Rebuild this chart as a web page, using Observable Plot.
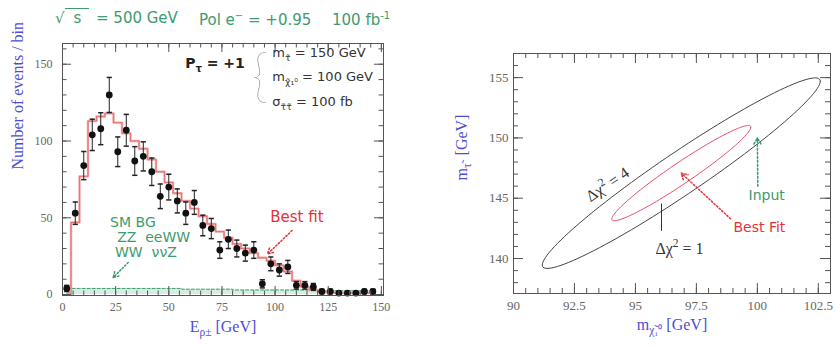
<!DOCTYPE html>
<html>
<head>
<meta charset="utf-8">
<script src="https://cdn.jsdelivr.net/npm/d3@7"></script>
<script src="https://cdn.jsdelivr.net/npm/@observablehq/plot@0.6"></script>
<style>
  html, body { margin: 0; padding: 0; background: #fff; }
  #wrap { position: relative; width: 835px; height: 349px; overflow: hidden; }
  #wrap svg { position: absolute; top: 0; }
  .ttl { position: absolute; top: 11px; font: 15px "DejaVu Sans", sans-serif; line-height: 1; color: #3d9b6e; white-space: nowrap; }
  .ttl sup { font-size: 10px; }
  .bar { border-top: 1px solid #3d9b6e; padding: 0 8px 0 9px; }
</style>
</head>
<body>
<div id="wrap">
  <div class="ttl" style="left:55px">√<span class="bar">s</span></div>
  <div class="ttl" style="left:96px">= 500 GeV</div>
  <div class="ttl" style="left:199px">Pol e<sup>−</sup> = +0.95</div>
  <div class="ttl" style="left:332px">100 fb<sup>-1</sup></div>
</div>
<script>
// ---- Energy spectrum: 4 GeV bins (bin centres in GeV) ----
const binCenters = [2, 6, 10, 14, 18, 22, 26, 30, 34, 38, 42, 46, 50, 54, 58, 62, 66, 70, 74, 78,
  82, 86, 90, 94, 98, 102, 106, 110, 114, 118, 122, 126, 130, 134, 138, 142, 146];
// simulated events per bin
const eventCounts = [4, 53, 84, 104, 108, 130, 93, 107, 87, 90, 80, 64, 70, 61, 53, 60, 45, 43, 29, 36,
  30, 27, 29, 7, 20, 16, 18, 6, 6, 5, 2, 2, 1, 1, 1, 2, 2];
// best-fit prediction per bin
const bestFit = [0, 47, 77, 113, 116, 118, 112, 105, 100, 95, 88, 80, 73, 66, 61, 56, 51, 46, 41, 37,
  33, 30, 27, 24, 22, 19, 15, 9, 5, 3, 2, 1.5, 1.2, 1, 1, 1, 1];
// SM background (ZZ, eeWW, WW, ννZ) per bin
const smBackground = [1, 4, 4, 4, 4, 4, 4, 4, 4, 4, 4, 4, 4, 4, 3.5, 3.5, 3.5, 3.5, 3.5, 3.5,
  3, 3, 3, 3, 3, 3, 3, 3, 3, 3, 2.5, 2.5, 2.5, 2.5, 2.5, 2.5, 2.5];

const specXTicks = [0, 25, 50, 75, 100, 125, 150];
const specYTicks = [0, 50, 100, 150];

// ---- Mass fit: chi^2 contours in the (m_chi, m_stau) plane ----
const fitMass = {mChi: 96.88, mStau: 147.08};
const inputMass = {mChi: 100, mStau: 150};
const sigmaChi = 2.85, sigmaStau = 3.95, rho = 0.964;
const chi2Levels = [1, 4];

const massXTicks = [90, 92.5, 95, 97.5, 100, 102.5];
const massYTicks = [140, 145, 150, 155];

// ------------------------------------------------------------
const rows = (vals) => binCenters.map((e, i) => ({e, v: vals[i]}));
const pts = rows(eventCounts);
const fitRows = rows(bestFit);
const bgRows = rows(smBackground);

const ink = "#555", blue = "#4d4dd6", green = "#3d9b6e", red = "#e8303a";
const NB = "\u00a0";

// short horizontal stroke used as an error-bar cap
const capSymbol = {draw(ctx, size) { const r = Math.sqrt(size / Math.PI); ctx.moveTo(-r, 0); ctx.lineTo(r, 0); }};

// inward ticks on all four sides of the frame
function frameTicks(xs, ys, len, innerW, innerH) {
  return [
    Plot.tickX(xs, {x: d => d, insetTop: innerH - len, stroke: ink}),
    Plot.tickX(xs, {x: d => d, insetBottom: innerH - len, stroke: ink}),
    Plot.tickY(ys, {y: d => d, insetRight: innerW - len, stroke: ink}),
    Plot.tickY(ys, {y: d => d, insetLeft: innerW - len, stroke: ink})
  ];
}

// ---- left panel ----
const L = {w: 417, h: 349, ml: 62, mr: 34, mt: 43, mb: 54};
const LiW = L.w - L.ml - L.mr, LiH = L.h - L.mt - L.mb;
const sans = "DejaVu Sans", serif = "Liberation Serif";
const err = d => Math.sqrt(d.v);

const left = Plot.plot({
  width: L.w, height: L.h,
  marginLeft: L.ml, marginRight: L.mr, marginTop: L.mt, marginBottom: L.mb,
  x: {domain: [0, 151], label: null},
  y: {domain: [-0.6, 163.5], label: null},
  style: {background: "transparent", fontFamily: serif, color: "#666"},
  marks: [
    Plot.areaY(bgRows, {x: "e", y: "v", curve: "step", fill: "#d6eee0"}),
    Plot.line(bgRows, {x: "e", y: "v", curve: "step", stroke: green, strokeWidth: 1, strokeDasharray: "3,2"}),
    Plot.line(fitRows, {x: "e", y: "v", curve: "step", stroke: "#f4a6a6", strokeWidth: 2.4}),
    Plot.line(fitRows, {x: "e", y: "v", curve: "step", stroke: "#e06060", strokeWidth: 0.7}),
    Plot.ruleX(pts, {x: "e", y1: d => d.v - err(d), y2: d => d.v + err(d), stroke: "#222"}),
    Plot.dot(pts, {x: "e", y: d => d.v - err(d), symbol: capSymbol, r: 2.6, stroke: "#222", fill: "none"}),
    Plot.dot(pts, {x: "e", y: d => d.v + err(d), symbol: capSymbol, r: 2.6, stroke: "#222", fill: "none"}),
    Plot.dot(pts, {x: "e", y: "v", r: 3.4, fill: "#111"}),
    Plot.frame({stroke: ink}),
    ...frameTicks(d3.range(0, 151, 5), d3.range(0, 161, 10), 4.5, LiW, LiH),
    ...frameTicks(specXTicks, specYTicks, 9, LiW, LiH),
    Plot.axisX(specXTicks, {tickSize: 0, tickPadding: 7, fontSize: 12, fill: "#666", tickFormat: d => String(d)}),
    Plot.axisY(specYTicks, {tickSize: 0, tickPadding: 10, fontSize: 12, fill: "#666", tickFormat: d => String(d)}),
    // axis titles
    Plot.text(["Number of events / bin"], {text: d => d, frameAnchor: "left", dx: -45, rotate: -90, fontSize: 16, fontFamily: serif, fill: blue}),
    Plot.text([`E_{ρ±}${NB}[GeV]`], {text: d => d, frameAnchor: "bottom", dy: 36, fontSize: 16, fontFamily: serif, fill: blue}),
    // scenario box
    Plot.text(["P_{τ} = +1"], {text: d => d, x: 57.7, y: 150.4, textAnchor: "start", fontSize: 14, fontWeight: "bold", fontFamily: sans, fill: "#222"}),
    Plot.text(["{"], {text: d => d, x: 93.0, y: 141.5, fontSize: 58, fontWeight: 100, fontFamily: "Lato", fill: "#888"}),
    Plot.text([`m_{τ̃}${NB}= 150 GeV`, `m_{χ̃₁⁰}${NB}= 100 GeV`, `σ_{τ̃τ̃}${NB}= 100 fb`], {text: d => d, x: 98.7, y: [157.2, 141.6, 125.2], textAnchor: "start", fontSize: 13, fontFamily: sans, fill: "#333"}),
    // background annotation
    Plot.text(["SM BG", `ZZ${NB} eeWW`, `WW${NB} ννZ`], {text: d => d, x: [22.4, 25.7, 24.7], y: [47.0, 37.2, 27.4], textAnchor: "start", fontSize: 14, fontFamily: sans, fill: green}),
    Plot.arrow([0], {x1: 30.9, y1: 20.9, x2: 23.8, y2: 11.1, stroke: green, strokeDasharray: "1.5,2", headLength: 6}),
    // fit annotation
    Plot.text(["Best fit"], {text: d => d, x: 97.7, y: 50.2, textAnchor: "start", fontSize: 15, fontFamily: sans, fill: red}),
    Plot.arrow([0], {x1: 108, y1: 41.7, x2: 96.5, y2: 26.5, stroke: red, strokeDasharray: "1.5,2", headLength: 6})
  ]
});

// ---- right panel ----
const R = {w: 418, h: 349, ml: 96, mr: 5, mt: 53, mb: 56};
const RiW = R.w - R.ml - R.mr, RiH = R.h - R.mt - R.mb;

// chi^2 contour: ellipse of the correlated two-parameter fit
function contour(level) {
  const k = Math.sqrt(level), s = Math.sqrt(1 - rho * rho);
  return d3.range(0, 361, 3).map(a => {
    const t = a * Math.PI / 180;
    return {x: fitMass.mChi + k * sigmaChi * Math.cos(t),
            y: fitMass.mStau + k * sigmaStau * (rho * Math.cos(t) + s * Math.sin(t))};
  });
}

const right = Plot.plot({
  width: R.w, height: R.h,
  marginLeft: R.ml, marginRight: R.mr, marginTop: R.mt, marginBottom: R.mb,
  x: {domain: [90, 103], label: null},
  y: {domain: [137.1, 157], label: null},
  style: {background: "transparent", fontFamily: serif, color: "#666"},
  marks: [
    Plot.line(contour(chi2Levels[1]), {x: "x", y: "y", stroke: "#444", strokeWidth: 1}),
    Plot.line(contour(chi2Levels[0]), {x: "x", y: "y", stroke: "#e8506a", strokeWidth: 1}),
    Plot.frame({stroke: ink}),
    ...frameTicks(d3.range(90, 103, 0.5), d3.range(138, 157, 1), 5, RiW, RiH),
    ...frameTicks(massXTicks, massYTicks, 10, RiW, RiH),
    Plot.axisX(massXTicks, {tickSize: 0, tickPadding: 7, fontSize: 13, fill: "#666", tickFormat: d => String(d)}),
    Plot.axisY(massYTicks, {tickSize: 0, tickPadding: 5, fontSize: 13, fill: "#666", tickFormat: d => String(d)}),
    Plot.text([`m_{τ̃}${NB}${NB}[GeV]`], {text: d => d, frameAnchor: "left", dx: -52, dy: 7, rotate: -90, fontSize: 16, fontFamily: serif, fill: blue}),
    Plot.text([`m_{χ̃₁⁰}${NB}[GeV]`], {text: d => d, frameAnchor: "bottom", dy: 36, fontSize: 16, fontFamily: serif, fill: blue}),
    // contour labels
    Plot.text(["Δχ^{2} = 4"], {text: d => d, x: 93.86, y: 146.13, rotate: -34, fontSize: 16, fontFamily: serif, fill: "#333"}),
    Plot.text(["Δχ^{2} = 1"], {text: d => d, x: 95.82, y: 140.83, textAnchor: "start", fontSize: 16, fontFamily: serif, fill: "#333"}),
    Plot.link([0], {x1: 96.07, y1: 142.3, x2: 96.07, y2: 144.56, stroke: "#333"}),
    // best fit and input points
    Plot.text(["Best Fit"], {text: d => d, x: 99.02, y: 142.57, textAnchor: "start", fontSize: 14, fontFamily: sans, fill: red}),
    Plot.arrow([0], {x1: 98.9, y1: 143.3, x2: fitMass.mChi, y2: fitMass.mStau, stroke: red, strokeDasharray: "1.5,2", headLength: 7}),
    Plot.text(["Input"], {text: d => d, x: 99.64, y: 145.22, textAnchor: "start", fontSize: 14, fontFamily: sans, fill: green}),
    Plot.arrow([0], {x1: 100.02, y1: 146.0, x2: inputMass.mChi, y2: inputMass.mStau, stroke: green, strokeDasharray: "2,2", headLength: 7})
  ]
});

const wrap = document.getElementById("wrap");
left.style.left = "0px";
right.style.left = L.w + "px";
wrap.appendChild(left);
wrap.appendChild(right);

// turn _{...} and ^{...} inside SVG labels into sub/superscript tspans
function richify(svg) {
  for (const el of svg.querySelectorAll("text")) {
    const s = el.textContent;
    if (!/[_^]\{/.test(s)) continue;
    const size = parseFloat(getComputedStyle(el).fontSize) || 12;
    el.textContent = "";
    let shift = 0;
    for (const m of s.matchAll(/([_^])\{([^}]*)\}|([^_^]+|[_^])/g)) {
      const t = document.createElementNS("http://www.w3.org/2000/svg", "tspan");
      let target = 0, txt = m[3];
      if (m[1]) {
        target = m[1] === "_" ? 0.3 * size : -0.42 * size;
        txt = m[2];
        t.setAttribute("font-size", (0.72 * size).toFixed(1));
      }
      if (target !== shift) t.setAttribute("dy", (target - shift).toFixed(1));
      shift = target;
      t.textContent = txt;
      el.appendChild(t);
    }
  }
}
richify(left);
richify(right);
</script>
</body>
</html>
